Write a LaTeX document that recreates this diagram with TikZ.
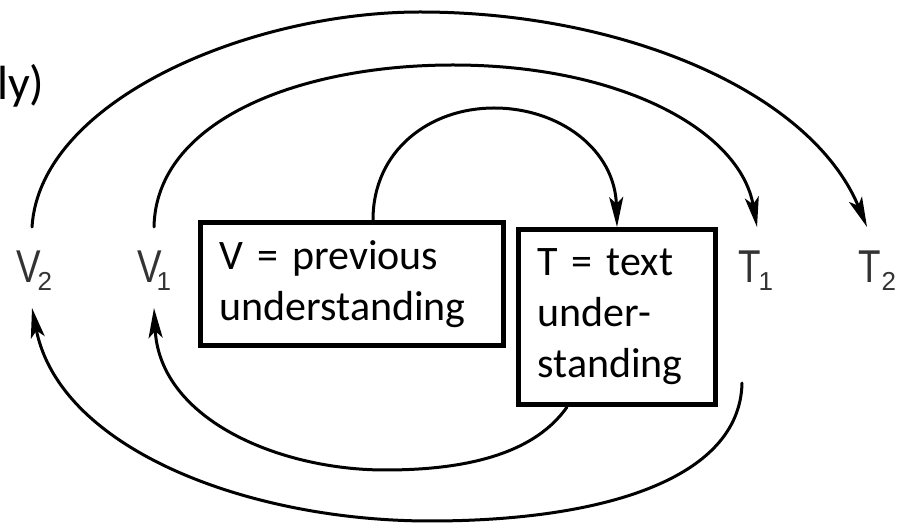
\documentclass[tikz,border=0pt]{standalone}
\usepackage{graphicx}
\usepackage{fontspec}
\setmainfont{Carlito}
\newfontfamily\labfont{Liberation Sans}
\usetikzlibrary{arrows.meta}
\newcommand\mylbl[3]{\scalebox{0.8}[1]{\fontsize{46}{46}\selectfont #1}\kern#2\raisebox{-8pt}{\fontsize{26}{26}\selectfont #3}}
\tikzset{
  boxnode/.style={draw, line width=5pt, inner xsep=19pt, inner ysep=0pt, align=left,
    font=\fontsize{42}{51}\selectfont},
  lbl/.style={anchor=base west, inner sep=0pt, text=black!80, font=\labfont},
  arc/.style={line width=3pt, line cap=round},
  arcarrow/.style={arc, -{Stealth[length=30pt, width=14pt, inset=7pt]}}
}
\begin{document}
\begin{tikzpicture}[x=1pt, y=-1pt]
\useasboundingbox (0,0) rectangle (903,526);
% boxes
\node[boxnode, minimum width=303pt, minimum height=123pt, text width=265pt] (vbox) at (352,284)
  {V = previous\\understanding};
\node[boxnode, minimum width=197pt, minimum height=175pt, text width=159pt] (tbox) at (617,317)
  {T = text\\under-\\standing};
% labels
\node[lbl] (v2) at (16,283) {\mylbl{V}{-3pt}{2}};
\node[lbl] (v1) at (137,283) {\mylbl{V}{-5pt}{1}};
\node[lbl] (t1) at (738,283) {\mylbl{T}{-2pt}{1}};
\node[lbl] (t2) at (858,283) {\mylbl{T}{1pt}{2}};
\node[anchor=base west, inner sep=0pt, font=\fontsize{48}{58}\selectfont] (ly) at (-3,100) {ly)};
% arc end points
\coordinate (v2up) at (32,227);
\coordinate (v1up) at (154,227);
\coordinate (t1in) at (757,227);
\coordinate (t2in) at (867,227);
\coordinate (v2in) at (32,308);
\coordinate (v1in) at (154,308);
\coordinate (t1out) at (742,383);
% top arcs
\draw[arcarrow] (v2up) .. controls (40,100) and (250,12) .. (420,12)
  .. controls (620,12) and (810,90) .. (t2in);
\draw[arcarrow] (v1up) .. controls (156,120) and (300,65) .. (453,65)
  .. controls (620,65) and (740,130) .. (t1in);
\draw[arcarrow] ([xshift=21pt]vbox.north) .. controls (373,150) and (430,108) .. (494,108)
  .. controls (560,108) and (615,150) .. (tbox.north);
% bottom arcs
\draw[arcarrow] ([xshift=-50pt]tbox.south) .. controls (530,460) and (450,470) .. (385,470)
  .. controls (280,470) and (160,420) .. (v1in);
\draw[arcarrow] (t1out) .. controls (740,480) and (600,521) .. (430,521)
  .. controls (250,521) and (60,450) .. (v2in);
\end{tikzpicture}
\end{document}
